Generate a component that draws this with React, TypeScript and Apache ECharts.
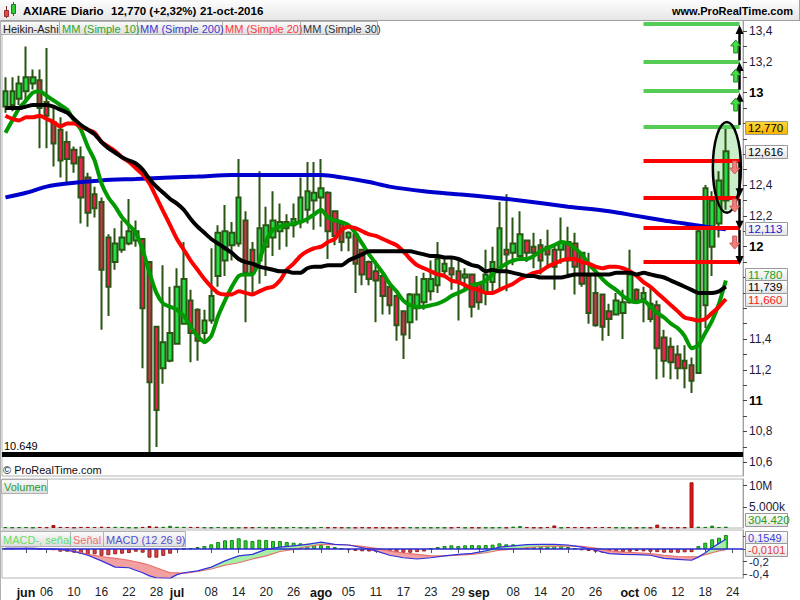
import React, { useEffect, useRef } from 'react';
import * as echarts from 'echarts';

const FONT = '"Liberation Sans", Arial, sans-serif';

const dates = ['05-27','05-30','05-31','06-01','06-02','06-03','06-06','06-07','06-08','06-09','06-10','06-13','06-14','06-15','06-16','06-17','06-20','06-21','06-22','06-23','06-24','06-27','06-28','06-29','06-30','07-01','07-04','07-05','07-06','07-07','07-08','07-11','07-12','07-13','07-14','07-15','07-18','07-19','07-20','07-21','07-22','07-25','07-26','07-27','07-28','07-29','08-01','08-02','08-03','08-04','08-05','08-08','08-09','08-10','08-11','08-12','08-15','08-16','08-17','08-18','08-19','08-22','08-23','08-24','08-25','08-26','08-29','08-30','08-31','09-01','09-02','09-05','09-06','09-07','09-08','09-09','09-12','09-13','09-14','09-15','09-16','09-19','09-20','09-21','09-22','09-23','09-26','09-27','09-28','09-29','09-30','10-03','10-04','10-05','10-06','10-07','10-10','10-11','10-12','10-13','10-14','10-17','10-18','10-19','10-20','10-21','10-24','10-25'];

const tickDates = ['06-01','06-06','06-10','06-16','06-22','06-28','07-01','07-08','07-14','07-20','07-26','08-01','08-05','08-11','08-17','08-23','08-29','09-01','09-08','09-14','09-20','09-26','10-03','10-06','10-12','10-18','10-24'];
const tickTexts = ['jun','06','10','16','22','28','jul','08','14','20','26','ago','05','11','17','23','29','sep','08','14','20','26','oct','06','12','18','24'];

// price-axis labels that are visible (others are covered by the price tags)
const priceLabels = [10.6, 10.8, 11, 11.2, 11.4, 12, 12.2, 12.4, 13, 13.2, 13.4];

// Heikin-Ashi candles
const haOpen = [12.91,12.92,12.96,13.01,13.06,13.08,12.94,12.81,12.76,12.68,12.63,12.58,12.45,12.34,12.29,12.06,11.90,11.98,12.02,12.04,12.05,11.90,11.48,11.21,11.26,11.37,11.50,11.65,11.59,11.44,11.52,11.81,11.91,12.01,12.02,12.17,11.98,11.91,12.00,12.06,12.10,12.12,12.14,12.16,12.24,12.30,12.32,12.35,12.23,12.15,12.06,12.08,11.98,11.90,11.84,11.81,11.74,11.68,11.58,11.51,11.60,11.64,11.71,11.75,11.84,11.86,11.84,11.80,11.82,11.76,11.70,11.77,11.86,11.98,11.96,11.94,12.04,12.00,12.01,12.00,11.98,11.98,12.03,12.02,11.96,11.81,11.70,11.69,11.58,11.56,11.57,11.64,11.72,11.66,11.63,11.62,11.41,11.35,11.30,11.26,11.23,11.18,11.62,12.00,12.15,12.30];
const haClose = [13.01,13.01,13.06,13.10,13.10,12.90,12.85,12.67,12.56,12.57,12.54,12.32,12.22,12.25,11.85,11.74,12.02,12.06,12.10,12.10,11.60,11.12,10.94,11.38,11.44,11.74,11.79,11.44,11.39,11.52,11.68,12.09,12.10,12.09,12.32,11.83,11.83,12.12,12.14,12.17,12.16,12.16,12.18,12.32,12.36,12.35,12.38,12.10,12.07,12.03,12.09,11.89,11.82,11.79,11.78,11.68,11.62,11.49,11.43,11.69,11.69,11.79,11.79,11.92,11.89,11.82,11.77,11.82,11.61,11.64,11.82,11.90,12.12,11.95,12.02,12.08,11.96,11.96,11.91,11.95,11.87,12.03,11.91,11.87,11.76,11.57,11.49,11.48,11.53,11.65,11.64,11.82,11.65,11.70,11.53,11.34,11.26,11.25,11.21,11.21,11.13,12.10,12.38,12.30,12.43,12.62];
const haHigh = [13.10,13.10,13.11,13.30,13.15,13.15,13.29,12.91,12.84,12.75,12.65,12.65,12.48,12.39,12.32,12.08,12.12,12.17,12.31,12.17,12.05,11.90,11.48,11.88,11.74,11.86,12.03,11.72,11.60,11.59,11.99,12.14,12.27,12.16,12.57,12.23,12.03,12.49,12.26,12.36,12.28,12.21,12.28,12.45,12.55,12.55,12.57,12.36,12.23,12.15,12.10,12.08,11.98,11.91,11.91,11.82,11.74,11.69,11.58,11.70,11.81,11.83,11.91,12.03,11.92,11.94,11.91,11.86,11.82,11.76,11.98,12.00,12.29,12.34,12.19,12.23,12.04,12.09,12.05,12.11,12.01,12.19,12.13,12.09,11.96,11.96,11.81,11.69,11.63,11.70,11.72,11.98,11.73,11.74,11.74,11.65,11.46,11.41,11.36,11.36,11.28,12.12,12.40,12.36,12.49,12.79];
const haLow = [12.87,12.88,12.92,12.93,13.02,12.64,12.64,12.52,12.45,12.42,12.48,12.15,12.13,12.19,11.46,11.55,11.85,11.96,12.01,12.00,11.21,10.66,10.70,11.11,11.25,11.37,11.50,11.25,11.26,11.39,11.50,11.74,11.81,11.91,12.00,11.51,11.68,11.76,11.81,11.94,11.98,12.00,12.06,12.12,12.15,12.11,12.13,11.92,12.01,11.97,11.97,11.70,11.75,11.75,11.51,11.56,11.56,11.39,11.27,11.40,11.52,11.59,11.65,11.70,11.80,11.72,11.52,11.72,11.54,11.59,11.62,11.71,11.71,11.71,11.88,11.91,11.90,11.86,11.82,11.88,11.72,11.89,11.82,11.69,11.74,11.50,11.48,11.39,11.42,11.56,11.40,11.63,11.63,11.51,11.51,11.14,11.15,11.14,11.14,11.08,11.05,11.18,11.47,11.81,12.06,12.24];

// Moving averages
const sma10 = [12.74,12.82,12.90,12.95,13.00,13.01,12.98,12.95,12.92,12.89,12.82,12.76,12.65,12.56,12.41,12.32,12.26,12.19,12.14,12.09,11.98,11.83,11.70,11.63,11.61,11.59,11.55,11.48,11.42,11.38,11.42,11.55,11.65,11.74,11.81,11.82,11.82,11.91,12.04,12.11,12.13,12.14,12.15,12.16,12.18,12.21,12.24,12.19,12.17,12.16,12.14,12.09,12.02,11.95,11.89,11.83,11.76,11.71,11.65,11.62,11.61,11.61,11.62,11.63,11.65,11.68,11.70,11.72,11.75,11.76,11.78,11.82,11.86,11.89,11.91,11.92,11.92,11.94,11.97,11.99,12.01,12.03,12.02,11.99,11.95,11.89,11.84,11.79,11.75,11.72,11.68,11.65,11.64,11.65,11.61,11.57,11.54,11.50,11.47,11.42,11.34,11.36,11.44,11.52,11.63,11.78];
const sma20 = [12.85,12.83,12.82,12.84,12.84,12.85,12.83,12.81,12.78,12.80,12.80,12.78,12.76,12.74,12.68,12.65,12.62,12.58,12.55,12.51,12.47,12.41,12.32,12.23,12.14,12.05,11.98,11.91,11.85,11.79,11.74,11.70,11.69,11.69,11.71,11.70,11.69,11.71,11.73,11.74,11.78,11.85,11.89,11.94,11.97,11.99,12.00,12.03,12.05,12.11,12.13,12.12,12.10,12.08,12.07,12.05,12.03,12.01,11.97,11.92,11.88,11.86,11.84,11.82,11.81,11.78,11.77,11.75,11.73,11.72,11.70,11.70,11.72,11.74,11.76,11.79,11.81,11.83,11.84,11.87,11.89,11.91,11.92,11.92,11.90,11.89,11.87,11.86,11.87,11.87,11.86,11.84,11.81,11.77,11.74,11.70,11.66,11.62,11.58,11.54,11.53,11.52,11.53,11.57,11.61,11.66];
const sma30 = [12.90,12.90,12.90,12.91,12.92,12.92,12.92,12.91,12.89,12.87,12.83,12.79,12.76,12.73,12.68,12.64,12.61,12.58,12.56,12.54,12.50,12.44,12.39,12.35,12.31,12.28,12.24,12.18,12.13,12.09,12.05,12.02,11.99,11.96,11.92,11.90,11.89,11.87,11.86,11.85,11.84,11.84,11.83,11.83,11.86,11.87,11.87,11.88,11.88,11.88,11.91,11.93,11.95,11.97,11.97,11.97,11.97,11.97,11.97,11.97,11.96,11.95,11.94,11.94,11.93,11.93,11.92,11.90,11.88,11.87,11.84,11.85,11.84,11.84,11.83,11.82,11.81,11.81,11.80,11.80,11.80,11.80,11.81,11.82,11.82,11.82,11.82,11.82,11.82,11.83,11.83,11.83,11.82,11.83,11.82,11.81,11.80,11.78,11.76,11.74,11.72,11.70,11.70,11.70,11.71,11.74];
const sma200Idx = [0,3,6,9,14,19,24,28,33,39,46,49,53,56,61,66,71,75,82,88,92,96,99,102,105];
const sma200Val = [12.32,12.35,12.39,12.41,12.43,12.44,12.45,12.455,12.465,12.465,12.465,12.45,12.42,12.39,12.36,12.34,12.32,12.30,12.26,12.23,12.20,12.17,12.15,12.13,12.113];

// Volume (thousands of shares)
const volumesK = [200,150,200,220,120,250,180,700,260,230,120,250,260,240,300,260,280,260,150,120,260,450,330,280,520,300,280,260,250,150,120,230,120,100,120,130,150,250,120,100,130,110,230,120,100,110,240,120,150,120,110,100,150,100,120,110,100,100,130,150,100,120,110,130,100,90,250,100,120,100,110,100,150,100,320,450,200,110,100,220,600,100,210,200,200,110,230,220,220,120,100,100,110,120,100,800,100,150,150,150,10800,320,260,550,230,304.42];

// MACD
const macdIdx = [0,4,8,10,12,14,16,18,20,21,22,24,25,26,28,30,32,34,36,38,40,42,44,46,48,50,52,54,56,58,60,62,64,66,68,70,72,74,76,78,80,82,84,86,88,90,92,94,96,98,100,101,102,103,104,105];
const macdLine = [0.01,0.01,-0.005,-0.04,-0.10,-0.19,-0.29,-0.30,-0.38,-0.43,-0.46,-0.47,-0.41,-0.38,-0.35,-0.29,-0.19,-0.11,-0.085,-0.005,0.03,0.05,0.075,0.11,0.075,0.064,0.02,-0.03,-0.10,-0.14,-0.16,-0.14,-0.11,-0.085,-0.07,-0.03,0.03,0.05,0.07,0.075,0.075,0.064,0.03,-0.02,-0.075,-0.085,-0.09,-0.10,-0.15,-0.165,-0.18,-0.13,-0.06,0.02,0.09,0.155];
const signalLine = [0.01,0.01,-0.01,-0.03,-0.085,-0.12,-0.15,-0.18,-0.23,-0.26,-0.30,-0.38,-0.38,-0.39,-0.36,-0.32,-0.26,-0.22,-0.16,-0.11,-0.04,-0.005,0.04,0.075,0.07,0.064,0.043,0.01,-0.03,-0.064,-0.085,-0.11,-0.11,-0.10,-0.085,-0.06,-0.02,0.0,0.02,0.04,0.045,0.05,0.043,0.016,-0.03,-0.05,-0.06,-0.075,-0.10,-0.12,-0.125,-0.12,-0.09,-0.06,-0.03,-0.0101];
const macdHist = [0.01,0.01,0.015,0.02,0.01,-0.01,-0.015,-0.02,-0.043,-0.043,-0.059,-0.075,-0.085,-0.085,-0.11,-0.10,-0.085,-0.075,-0.064,-0.043,-0.059,-0.139,-0.139,-0.11,-0.075,-0.01,0.005,0.01,0.032,0.048,0.075,0.112,0.139,0.144,0.171,0.139,0.128,0.149,0.144,0.128,0.128,0.112,0.101,0.091,0.085,0.075,0.064,0.048,0.032,0.01,-0.02,-0.03,-0.037,-0.04,-0.043,-0.05,-0.059,-0.059,-0.06,-0.06,-0.05,-0.04,0.005,0.032,0.048,0.059,0.048,0.059,0.064,0.059,0.064,0.07,0.091,0.075,0.075,0.064,0.064,0.053,0.05,0.05,0.075,0.048,0.032,0.01,-0.021,-0.032,-0.043,-0.059,-0.059,-0.05,-0.05,-0.043,-0.032,-0.037,-0.043,-0.05,-0.059,-0.059,-0.059,-0.053,-0.05,0.048,0.101,0.155,0.181,0.224];

// Drawn annotations (price levels)
const supportLevel = 10.649;
const greenTargets = [13.45, 13.20, 13.01, 12.78];
const redTargets = [12.56, 12.32, 12.12, 11.90];
const upArrows = [[12.79, 12.97], [13.02, 13.17], [13.21, 13.41]];
const downArrows = [[12.55, 12.35], [12.31, 12.14], [12.11, 11.91]];
const upMarks = [13.297, 13.108, 12.92];
const downMarks = [12.517, 12.27, 12.03];

const priceTags = [
  { v: 12.770, t: '12,770', c: '#000', bg: 'gold', dy: 0 },
  { v: 12.616, t: '12,616', c: '#000', bg: 'gray', dy: 0 },
  { v: 12.113, t: '12,113', c: '#2020d0', bg: 'gray', dy: 0 },
  { v: 11.780, t: '11,780', c: '#22a022', bg: 'gray', dy: -6 },
  { v: 11.739, t: '11,739', c: '#000', bg: 'gray', dy: 0 },
  { v: 11.660, t: '11,660', c: '#ff2020', bg: 'gray', dy: 1 },
];

const GREEN_BODY = '#22dd44';
const RED_BODY = '#ee2255';
const OUTLINE = '#2a5513';

export default function App() {
  const ref = useRef<HTMLDivElement>(null);
  useEffect(() => {
    const el = ref.current!;
    const chart = echarts.init(el, null, { renderer: 'svg' });
    const tickSet = new Set(tickDates);
    const mainTicks: number[] = [];
    for (let k = 106; k <= 134; k++) mainTicks.push(k / 10);
    const volumes = volumesK.map(v => v * 1000);

    const candle = haOpen.map((o, i) => [o, haClose[i], haLow[i], haHigh[i]]);
    const up = haOpen.map((o, i) => haClose[i] >= o);

    const markLineData: any[] = [
      {
        yAxis: supportLevel,
        lineStyle: { color: '#000', width: 5, type: 'solid' },
        label: { show: true, position: 'insideStartTop', formatter: '10.649', color: '#000', fontSize: 11, fontFamily: FONT, distance: [2, 3] },
      },
    ];
    greenTargets.forEach(v => markLineData.push([
      { coord: [93, v], lineStyle: { color: '#55cc55', width: 4, type: 'solid' } }, { coord: [107, v] },
    ]));
    redTargets.forEach(v => markLineData.push([
      { coord: [93, v], lineStyle: { color: '#ff0000', width: 4, type: 'solid' } }, { coord: [107, v] },
    ]));
    [...upArrows, ...downArrows].forEach(([a, b]) => markLineData.push([
      { coord: [107, a], symbol: 'none', lineStyle: { color: '#000', width: 2.5, type: 'solid' } },
      { coord: [107, b], symbol: 'triangle', symbolSize: [8, 9] },
    ]));

    const axisLabelColor = '#1a1a40';
    const option: any = {
      animation: false,
      backgroundColor: '#fff',
      textStyle: { fontFamily: FONT },
      grid: [
        { left: 2, right: 57, top: 20, height: 456, show: true, borderColor: '#b4b4b4', borderWidth: 1 },
        { left: 2, right: 57, top: 479, height: 49, show: true, borderColor: '#b4b4b4', borderWidth: 1 },
        { left: 2, right: 57, top: 530, height: 48, show: true, borderColor: '#b4b4b4', borderWidth: 1 },
      ],
      xAxis: [0, 1, 2].map(g => ({
        type: 'category', gridIndex: g, data: dates, boundaryGap: true,
        axisLine: { show: false },
        axisTick: g === 2 ? { show: true, interval: (_i: number, v: string) => tickSet.has(v), alignWithLabel: true, length: 4, lineStyle: { color: '#555' } } : { show: false },
        axisLabel: g === 2 ? {
          show: true, interval: (_i: number, v: string) => tickSet.has(v), margin: 8, fontSize: 12, color: '#222', fontFamily: FONT,
          formatter: (v: string) => { const k = tickDates.indexOf(v); if (k < 0) return ''; const t = tickTexts[k]; return isNaN(+t) ? `{m|${t}}` : t; },
          rich: { m: { fontWeight: 'bold', fontSize: 12.5, color: '#111', fontFamily: FONT } },
        } : { show: false },
        splitLine: { show: false },
      })),
      yAxis: [
        {
          type: 'value', gridIndex: 0, position: 'right', min: 10.511, max: 13.472, scale: true,
          splitLine: { show: false },
          axisLine: { show: true, lineStyle: { color: '#a0a0a0' } },
          axisTick: { show: true, length: 4, lineStyle: { color: '#444' }, customValues: mainTicks },
          axisLabel: {
            customValues: priceLabels, margin: 6, fontSize: 12, color: axisLabelColor, fontFamily: FONT,
            formatter: (v: number) => { const r = Math.round(v * 10) / 10; return Number.isInteger(r) ? `{b|${r}}` : r.toFixed(1).replace('.', ','); },
            rich: { b: { fontWeight: 'bold', fontSize: 13, color: '#000', fontFamily: FONT } },
          },
        },
        {
          type: 'value', gridIndex: 1, position: 'right', min: 0, max: 11.58e6,
          splitLine: { show: false },
          axisLine: { show: true, lineStyle: { color: '#a0a0a0' } },
          axisTick: { show: true, length: 4, lineStyle: { color: '#444' }, customValues: [5e6, 10e6] },
          axisLabel: { customValues: [5e6, 10e6], margin: 6, fontSize: 12, color: axisLabelColor, fontFamily: FONT, formatter: (v: number) => (v >= 1e7 ? '10M' : '5.000k') },
        },
        {
          type: 'value', gridIndex: 2, position: 'right', min: -0.464, max: 0.304,
          splitLine: { show: false },
          axisLine: { show: true, lineStyle: { color: '#a0a0a0' } },
          axisTick: { show: true, length: 4, lineStyle: { color: '#444' }, customValues: [-0.4, -0.2, 0, 0.2] },
          axisLabel: { customValues: [-0.4, -0.2], margin: 6, fontSize: 11.5, color: axisLabelColor, fontFamily: FONT, formatter: (v: number) => v.toFixed(1).replace('.', ',') },
        },
      ],
      series: [
        {
          type: 'candlestick', xAxisIndex: 0, yAxisIndex: 0, data: candle, barWidth: 5,
          itemStyle: { color: GREEN_BODY, color0: RED_BODY, borderColor: OUTLINE, borderColor0: OUTLINE, borderWidth: 2 },
          markLine: { silent: true, symbol: ['none', 'none'], label: { show: false }, data: markLineData, animation: false },
          z: 2,
        },
        { type: 'line', name: 'MM (Simple 200)', xAxisIndex: 0, yAxisIndex: 0, data: sma200Idx.map((i, k) => [i, sma200Val[k]]), smooth: 0.3, symbol: 'none', lineStyle: { color: '#0000cc', width: 4 }, z: 3 },
        { type: 'line', name: 'MM (Simple 10)', xAxisIndex: 0, yAxisIndex: 0, data: sma10, symbol: 'none', smooth: 0.2, lineStyle: { color: '#009a00', width: 4 }, z: 4 },
        { type: 'line', name: 'MM (Simple 20)', xAxisIndex: 0, yAxisIndex: 0, data: sma20, symbol: 'none', smooth: 0.2, lineStyle: { color: '#ff0000', width: 4 }, z: 5 },
        { type: 'line', name: 'MM (Simple 30)', xAxisIndex: 0, yAxisIndex: 0, data: sma30, symbol: 'none', smooth: 0.2, lineStyle: { color: '#000000', width: 4 }, z: 6 },
        {
          type: 'bar', name: 'Volumen', xAxisIndex: 1, yAxisIndex: 1, barWidth: 4,
          data: volumes.map((v, i) => ({ value: v, itemStyle: { color: up[i] ? '#22cc22' : '#ee1111', borderColor: up[i] ? '#117711' : '#991111', borderWidth: 1 } })),
        },
        {
          type: 'bar', name: 'MACD-, señal', xAxisIndex: 2, yAxisIndex: 2, barWidth: 4,
          data: macdHist.map(v => ({ value: v, itemStyle: { color: v >= 0 ? '#33cc33' : '#dd4444', borderColor: v >= 0 ? '#118811' : '#992222', borderWidth: 1 } })),
          markLine: { silent: true, symbol: ['none', 'none'], label: { show: false }, data: [{ yAxis: 0 }], lineStyle: { color: '#2a2acc', width: 1.5, type: 'solid' } },
        },
        { type: 'line', xAxisIndex: 2, yAxisIndex: 2, stack: 'm', stackStrategy: 'all', data: macdIdx.map((i, k) => [i, Math.min(macdLine[k], signalLine[k])]), symbol: 'none', lineStyle: { width: 0, opacity: 0 }, z: 3 },
        { type: 'line', xAxisIndex: 2, yAxisIndex: 2, stack: 'm', stackStrategy: 'all', data: macdIdx.map((i, k) => [i, Math.max(macdLine[k] - signalLine[k], 0)]), symbol: 'none', lineStyle: { width: 0, opacity: 0 }, areaStyle: { color: '#a6eea6', opacity: 1 }, z: 3 },
        { type: 'line', xAxisIndex: 2, yAxisIndex: 2, stack: 'm', stackStrategy: 'all', data: macdIdx.map((i, k) => [i, Math.max(signalLine[k] - macdLine[k], 0)]), symbol: 'none', lineStyle: { width: 0, opacity: 0 }, areaStyle: { color: '#f2a0a0', opacity: 1 }, z: 3 },
        { type: 'line', name: 'Señal', xAxisIndex: 2, yAxisIndex: 2, data: macdIdx.map((i, k) => [i, signalLine[k]]), symbol: 'none', lineStyle: { color: '#e87070', width: 1.2 }, z: 4 },
        { type: 'line', name: 'MACD (12 26 9)', xAxisIndex: 2, yAxisIndex: 2, data: macdIdx.map((i, k) => [i, macdLine[k]]), symbol: 'none', lineStyle: { color: '#3030e0', width: 1.2 }, z: 5 },
      ],
    };
    chart.setOption(option);

    const grad = (a: string, b: string) => new echarts.graphic.LinearGradient(0, 0, 0, 1, [{ offset: 0, color: a }, { offset: 1, color: b }]);
    const txt = (x: number, y: number, text: string, fill: string, font: string, align = 'left', z = 110) => ({
      type: 'text', x, y, z, silent: true,
      style: { text, fill, font, textAlign: align, align, textVerticalAlign: 'middle', verticalAlign: 'middle' },
    });
    const legendBox = (x: number, y: number, w: number, h: number, text: string, color: string) => [
      { type: 'rect', z: 105, silent: true, shape: { x: x + 0.5, y: y + 0.5, width: w, height: h }, style: { fill: grad('#fbfbfb', '#dedede'), stroke: '#b0b0b0', lineWidth: 1 } },
      txt(x + 3, y + h / 2 + 1, text, color, `11px ${FONT}`),
    ];
    const tagBox = (cy: number, text: string, color: string, kind: string, z: number, size = 12) => [
      { type: 'rect', z, silent: true, shape: { x: 745.5, y: Math.round(cy - 7) + 0.5, width: 42, height: 13 }, style: { fill: kind === 'gold' ? grad('#ffd83a', '#f5b400') : grad('#ffffff', '#e4e4e4'), stroke: '#9a9a9a', lineWidth: 1 } },
      txt(748, cy, text, color, `${size}px ${FONT}`, 'left', z + 1),
    ];

    const els: any[] = [];
    // header bar
    els.push({ type: 'rect', z: 100, silent: true, shape: { x: 0, y: 0, width: 800, height: 20 }, style: { fill: grad('#fdfdfd', '#e6e6e6') } });
    els.push({ type: 'line', z: 101, silent: true, shape: { x1: 0, y1: 20.5, x2: 800, y2: 20.5 }, style: { stroke: '#a0a0a0', lineWidth: 1 } });
    els.push({ type: 'line', z: 101, silent: true, shape: { x1: 799.5, y1: 0, x2: 799.5, y2: 20 }, style: { stroke: '#a0a0a0', lineWidth: 1 } });
    els.push({ type: 'line', z: 101, silent: true, shape: { x1: 6.5, y1: 6, x2: 6.5, y2: 18 }, style: { stroke: '#773333', lineWidth: 1 } });
    els.push({ type: 'rect', z: 102, silent: true, shape: { x: 4.5, y: 10.5, width: 4, height: 6 }, style: { fill: '#ee4444', stroke: '#993333', lineWidth: 1 } });
    els.push({ type: 'line', z: 101, silent: true, shape: { x1: 13.5, y1: 2, x2: 13.5, y2: 16 }, style: { stroke: '#336633', lineWidth: 1 } });
    els.push({ type: 'rect', z: 102, silent: true, shape: { x: 11.5, y: 4.5, width: 4, height: 9 }, style: { fill: '#33cc33', stroke: '#227722', lineWidth: 1 } });
    els.push(txt(23, 11, 'AXIARE', '#000', `bold 11.5px ${FONT}`));
    els.push(txt(71, 11, 'Diario', '#000', `bold 11.5px ${FONT}`));
    els.push(txt(111, 11, '12,770 (+2,32%)', '#000', `bold 11.5px ${FONT}`));
    els.push(txt(200, 11, '21-oct-2016', '#000', `bold 11.5px ${FONT}`));
    els.push(txt(793, 11, 'www.ProRealTime.com', '#000', `bold 11px ${FONT}`, 'right'));
    // legends
    els.push(...legendBox(0, 21, 59, 13, 'Heikin-Ashi', '#1a1a1a'));
    els.push(...legendBox(59, 21, 78, 13, 'MM (Simple 10)', '#2aa52a'));
    els.push(...legendBox(137, 21, 85, 13, 'MM (Simple 200)', '#3a3ad0'));
    els.push(...legendBox(222, 21, 78, 13, 'MM (Simple 20)', '#ff3a3a'));
    els.push(...legendBox(300, 21, 77, 13, 'MM (Simple 30)', '#333333'));
    els.push(...legendBox(1, 479, 46, 14, 'Volumen', '#2a9a2a'));
    els.push(...legendBox(0, 531, 70, 15, 'MACD-, señal', '#66dd66'));
    els.push(...legendBox(70, 531, 33, 15, 'Señal', '#f07070'));
    els.push(...legendBox(103, 531, 82, 15, 'MACD (12 26 9)', '#5050d0'));
    els.push(txt(3, 470, '© ProRealTime.com', '#111', `11px ${FONT}`));
    els.push({ type: 'line', z: 101, silent: true, shape: { x1: 0.5, y1: 20, x2: 0.5, y2: 600 }, style: { stroke: '#b0b0b0', lineWidth: 1 } });

    // ellipse around the last candles
    const ec = chart.convertToPixel({ gridIndex: 0 }, [105, 12.515]) as number[];
    const eTop = chart.convertToPixel({ yAxisIndex: 0 }, 12.81) as number;
    const eBot = chart.convertToPixel({ yAxisIndex: 0 }, 12.22) as number;
    const ry = (eBot - eTop) / 2;
    els.push({ type: 'ellipse', z: 1, silent: true, shape: { cx: ec[0] + 1, cy: ec[1], rx: 14, ry }, style: { fill: 'rgba(160,225,160,0.55)', stroke: 'none' } });
    els.push({ type: 'ellipse', z: 20, silent: true, shape: { cx: ec[0] + 1, cy: ec[1], rx: 14, ry }, style: { fill: 'none', stroke: '#000', lineWidth: 2.5 } });

    // block arrows
    upMarks.forEach(v => {
      const p = chart.convertToPixel({ gridIndex: 0 }, [106, v]) as number[];
      const x = p[0] + 3, y = p[1];
      els.push({ type: 'polygon', z: 21, silent: true, shape: { points: [[x, y - 7], [x + 5, y - 1], [x + 2, y - 1], [x + 2, y + 6], [x - 2, y + 6], [x - 2, y - 1], [x - 5, y - 1]] }, style: { fill: '#44dd44', stroke: '#228822', lineWidth: 1 } });
    });
    downMarks.forEach(v => {
      const p = chart.convertToPixel({ gridIndex: 0 }, [106, v]) as number[];
      const x = p[0] + 2, y = p[1];
      els.push({ type: 'polygon', z: 21, silent: true, shape: { points: [[x, y + 7], [x + 5, y + 1], [x + 2, y + 1], [x + 2, y - 6], [x - 2, y - 6], [x - 2, y + 1], [x - 5, y + 1]] }, style: { fill: '#ee8080', stroke: '#cc5555', lineWidth: 1 } });
    });

    // price tags
    priceTags.forEach((t, k) => {
      const y = chart.convertToPixel({ yAxisIndex: 0 }, t.v) as number;
      els.push(...tagBox(y + t.dy, t.t, t.c, t.bg, 120 + k * 2, 11.5));
    });
    const vy = chart.convertToPixel({ yAxisIndex: 1 }, volumes[volumes.length - 1]) as number;
    els.push(...tagBox(vy - 7, '304.420', '#22a022', 'gray', 140, 11.5));
    const my = chart.convertToPixel({ yAxisIndex: 2 }, macdLine[macdLine.length - 1]) as number;
    const sy = chart.convertToPixel({ yAxisIndex: 2 }, signalLine[signalLine.length - 1]) as number;
    els.push(...tagBox(my - 1.5, '0,1549', '#4040dd', 'gray', 142, 11));
    els.push(...tagBox(sy, '-0,0101', '#e04040', 'gray', 144, 11));

    chart.setOption({ graphic: els });
    return () => chart.dispose();
  }, []);
  return <div ref={ref} style={{ position: 'absolute', left: 0, top: 0, width: 800, height: 600, background: '#fff' }} />;
}
